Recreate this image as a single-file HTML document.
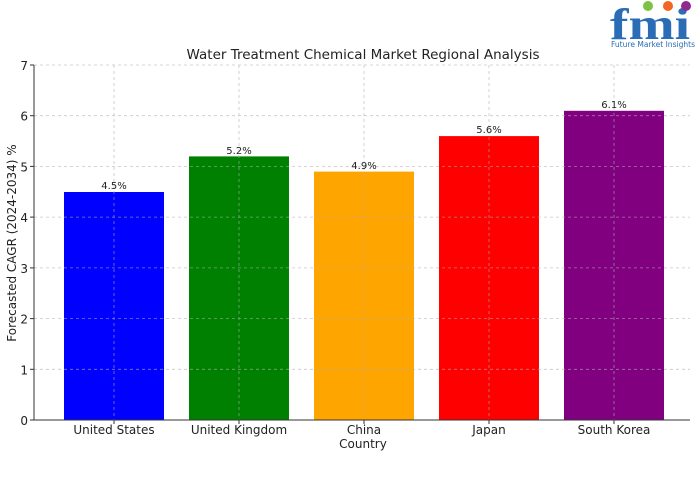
<!DOCTYPE html>
<html><head><meta charset="utf-8"><style>
html,body{margin:0;padding:0;background:#fff;}
svg{display:block;font-family:"DejaVu Sans","Liberation Sans",sans-serif;}
</style></head><body>
<svg width="700" height="500" viewBox="0 0 700 500" xmlns="http://www.w3.org/2000/svg">
<rect width="700" height="500" fill="#fff"/>
<text x="363" y="59" font-size="13.5" text-anchor="middle" fill="#222">Water Treatment Chemical Market Regional Analysis</text>
<rect x="64" y="192" width="100" height="228" fill="#0000ff"/>
<rect x="189" y="156.4" width="100" height="263.6" fill="#008000"/>
<rect x="314" y="171.6" width="100" height="248.4" fill="#ffa500"/>
<rect x="439" y="136.1" width="100" height="283.9" fill="#ff0000"/>
<rect x="564" y="110.8" width="100" height="309.2" fill="#800080"/>
<g stroke="#b0b0b0" stroke-width="0.8" stroke-dasharray="3,3" opacity="0.7">
<line x1="34" x2="690" y1="65" y2="65"/>
<line x1="34" x2="690" y1="115.7" y2="115.7"/>
<line x1="34" x2="690" y1="166.4" y2="166.4"/>
<line x1="34" x2="690" y1="217.1" y2="217.1"/>
<line x1="34" x2="690" y1="267.9" y2="267.9"/>
<line x1="34" x2="690" y1="318.6" y2="318.6"/>
<line x1="34" x2="690" y1="369.3" y2="369.3"/>
<line x1="114" x2="114" y1="65" y2="420"/>
<line x1="239" x2="239" y1="65" y2="420"/>
<line x1="364" x2="364" y1="65" y2="420"/>
<line x1="489" x2="489" y1="65" y2="420"/>
<line x1="614" x2="614" y1="65" y2="420"/>
</g>
<line x1="34" y1="65" x2="34" y2="420" stroke="#333" stroke-width="1"/>
<line x1="34" y1="420" x2="690" y2="420" stroke="#333" stroke-width="1"/>
<g stroke="#333">
<line x1="30" x2="34" y1="65" y2="65"/><line x1="30" x2="34" y1="115.7" y2="115.7"/>
<line x1="30" x2="34" y1="166.4" y2="166.4"/><line x1="30" x2="34" y1="217.1" y2="217.1"/>
<line x1="30" x2="34" y1="267.9" y2="267.9"/><line x1="30" x2="34" y1="318.6" y2="318.6"/>
<line x1="30" x2="34" y1="369.3" y2="369.3"/><line x1="30" x2="34" y1="420" y2="420"/>
<line x1="114" x2="114" y1="420" y2="424"/><line x1="239" x2="239" y1="420" y2="424"/>
<line x1="364" x2="364" y1="420" y2="424"/><line x1="489" x2="489" y1="420" y2="424"/>
<line x1="614" x2="614" y1="420" y2="424"/>
</g>
<g font-size="12" fill="#222" text-anchor="end">
<text x="28" y="70">7</text><text x="28" y="120.7">6</text><text x="28" y="171.4">5</text>
<text x="28" y="222.1">4</text><text x="28" y="272.9">3</text><text x="28" y="323.6">2</text>
<text x="28" y="374.3">1</text><text x="28" y="425">0</text>
</g>
<g font-size="12" fill="#222" text-anchor="middle">
<text x="114" y="434">United States</text><text x="239" y="434">United Kingdom</text>
<text x="364" y="434">China</text><text x="489" y="434">Japan</text><text x="614" y="434">South Korea</text>
<text x="363" y="448">Country</text>
</g>
<text transform="translate(16,243) rotate(-90)" font-size="12" fill="#222" text-anchor="middle">Forecasted CAGR (2024-2034) %</text>
<g font-size="10" fill="#222" text-anchor="middle">
<text x="114" y="189">4.5%</text><text x="239" y="154">5.2%</text><text x="364" y="169">4.9%</text>
<text x="489" y="133">5.6%</text><text x="614" y="108">6.1%</text>
</g>
<text x="610" y="39" font-size="44" font-weight="bold" fill="#2a6cb5" font-family="Liberation Serif,serif" textLength="80" lengthAdjust="spacingAndGlyphs">fmi</text>
<circle cx="648" cy="6" r="5" fill="#7dc242"/>
<circle cx="668" cy="6" r="5" fill="#f26522"/>
<circle cx="686" cy="6" r="5" fill="#92278f"/>
<text x="611" y="47" font-size="7.5" fill="#2a6cb5" textLength="84" lengthAdjust="spacingAndGlyphs">Future Market Insights</text>
</svg>
</body></html>
